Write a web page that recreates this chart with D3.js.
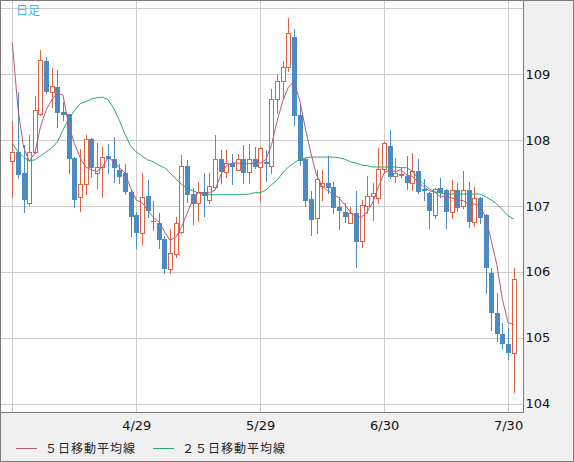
<!DOCTYPE html>
<html>
<head>
<meta charset="utf-8">
<script src="https://cdn.jsdelivr.net/npm/d3@7"></script>
<style>
  body { margin: 0; background: #f0f0f0; }
</style>
</head>
<body>
<script>
// daily candles
var dates = ["3/30","3/31",
  "4/1","4/2","4/3","4/6","4/7","4/8","4/9","4/10","4/13","4/14","4/15","4/16","4/17","4/20","4/21","4/22","4/23","4/24","4/27","4/28","4/29","4/30",
  "5/1","5/4","5/5","5/6","5/7","5/8","5/11","5/12","5/13","5/14","5/15","5/18","5/19","5/20","5/21","5/22","5/25","5/26","5/27","5/28","5/29",
  "6/1","6/2","6/3","6/4","6/5","6/8","6/9","6/10","6/11","6/12","6/15","6/16","6/17","6/18","6/19","6/22","6/23","6/24","6/25","6/26","6/29","6/30",
  "7/1","7/2","7/3","7/6","7/7","7/8","7/9","7/10","7/13","7/14","7/15","7/16","7/17","7/20","7/21","7/22","7/23","7/24","7/27","7/28","7/29","7/30","7/31"];

var open = [107.68,107.82,107.50,107.05,107.82,108.39,109.20,108.73,108.80,108.42,
  108.39,107.73,107.14,107.33,108.02,107.50,107.59,107.76,107.71,107.55,
  107.50,107.21,106.86,106.59,107.15,106.77,106.74,106.50,106.05,106.27,
  106.61,107.61,107.18,107.05,107.21,107.09,107.29,107.71,107.52,107.65,
  107.55,107.71,107.52,107.71,107.59,107.67,107.61,108.62,108.89,109.11,
  109.56,108.38,107.71,107.11,106.82,107.30,107.35,107.29,106.98,106.91,
  106.74,106.89,106.47,107.00,107.15,107.12,107.56,107.91,107.45,107.47,
  107.45,107.35,107.53,107.26,107.20,106.86,107.27,107.24,106.91,107.24,
  107.00,107.24,106.76,107.12,106.86,105.98,105.38,105.06,104.91,104.77];

var high = [108.29,108.73,107.92,108.08,108.67,109.36,109.26,109.09,109.06,108.58,
  108.40,107.74,107.86,108.08,108.03,107.95,107.89,107.94,108.05,107.64,
  107.64,107.24,106.91,107.50,107.39,107.08,106.89,106.55,106.65,106.83,
  107.77,107.70,107.27,107.36,107.50,107.50,108.08,107.85,107.85,107.79,
  107.79,107.92,107.94,107.89,107.89,107.85,108.77,108.98,109.20,109.85,
  109.68,108.55,107.72,107.23,107.55,107.55,107.76,107.36,107.14,107.05,
  106.98,107.23,107.09,107.45,107.35,107.88,107.97,108.15,107.73,107.58,
  107.76,107.80,107.71,107.41,107.21,107.27,107.42,107.25,107.39,107.35,
  107.53,107.36,107.29,107.13,106.87,106.06,105.68,105.23,105.15,106.06];

var low = [107.14,107.42,106.91,107.02,107.80,108.38,108.71,108.50,108.20,108.30,
  107.50,106.98,106.92,107.18,107.44,107.27,107.14,107.50,107.36,107.35,
  107.18,106.55,106.36,106.42,106.83,106.64,106.36,105.98,105.98,106.23,
  106.59,107.06,106.73,106.77,106.85,107.05,107.27,107.35,107.44,107.33,
  107.54,107.35,107.35,107.58,107.08,107.38,107.50,108.41,108.62,109.05,
  108.23,107.62,107.00,106.56,106.59,107.09,107.20,106.89,106.65,106.76,
  106.74,106.08,106.38,106.89,106.79,107.05,107.50,107.42,107.36,107.44,
  107.26,107.24,107.20,107.09,106.67,106.82,107.14,106.67,106.82,106.92,
  106.97,106.68,106.70,106.74,105.68,105.12,104.95,104.85,104.68,104.18];

var close = [107.82,107.47,107.09,107.82,108.45,109.21,108.73,108.82,108.41,108.38,
  107.71,107.09,107.33,108.02,107.58,107.59,107.74,107.71,107.58,107.44,
  107.21,106.83,106.59,107.14,106.92,106.76,106.48,106.05,106.29,106.74,
  107.61,107.17,107.03,107.21,107.15,107.30,107.71,107.52,107.65,107.59,
  107.71,107.50,107.71,107.59,107.88,107.64,108.62,108.89,109.11,109.62,
  108.36,107.68,107.08,106.79,107.41,107.35,107.27,106.97,106.92,106.83,
  106.89,106.45,107.02,107.15,107.20,107.56,107.95,107.44,107.50,107.48,
  107.35,107.53,107.21,107.23,106.92,107.26,107.20,106.91,107.24,106.97,
  107.24,106.76,107.12,106.82,106.06,105.38,105.05,104.91,104.77,105.89];

// moving averages as drawn
var ma5 = [109.48,108.48,107.89,107.68,107.80,108.20,108.45,108.61,108.71,108.68,
  108.23,107.95,107.74,107.59,107.55,107.52,107.59,107.73,107.68,107.58,
  107.50,107.27,107.09,107.05,106.94,106.83,106.76,106.61,106.48,106.52,
  106.67,106.88,107.09,107.20,107.20,107.20,107.24,107.47,107.61,107.65,
  107.65,107.64,107.64,107.65,107.65,107.70,107.92,108.29,108.59,108.80,
  108.89,108.61,108.18,107.80,107.47,107.30,107.23,107.18,107.12,107.02,
  106.91,106.83,106.83,106.91,107.06,107.29,107.50,107.55,107.52,107.55,
  107.47,107.45,107.36,107.29,107.23,107.21,107.14,107.14,107.12,107.09,
  107.08,107.03,107.03,107.00,106.83,106.48,106.11,105.58,105.23,105.20];

var ma25 = [107.95,107.82,107.74,107.68,107.70,107.76,107.82,107.88,107.97,108.15,
  108.32,108.44,108.55,108.58,108.62,108.64,108.65,108.61,108.48,108.30,
  108.09,107.91,107.82,107.76,107.70,107.67,107.62,107.58,107.50,107.41,
  107.33,107.27,107.23,107.20,107.18,107.17,107.17,107.17,107.17,107.17,
  107.17,107.17,107.18,107.20,107.20,107.24,107.32,107.39,107.50,107.59,
  107.65,107.71,107.73,107.74,107.74,107.74,107.74,107.74,107.73,107.71,
  107.67,107.65,107.62,107.61,107.59,107.59,107.59,107.59,107.59,107.58,
  107.58,107.53,107.42,107.33,107.26,107.21,107.20,107.18,107.18,107.18,
  107.18,107.18,107.18,107.18,107.14,107.09,107.03,106.94,106.85,106.80];

var gridDates = ["3/30","4/29","5/29","6/30","7/30"];
var labelDates = ["4/29","5/29","6/30","7/30"];
var yGrid = [104,105,106,107,108,109,110];
var yLabels = [104,105,106,107,108,109];
var legendNames = ["５日移動平均線", "２５日移動平均線"];

var upColor = "#dc6243";
var downColor = "#4b8bc3";
var ma5Color = "#b4587f";
var ma25Color = "#2aa775";

//set up svg
var width = 574;
var height = 462;
var plotW = 523;
var plotH = 412;

var svg = d3.select("body").append("svg")
  .attr("width", width)
  .attr("height", height)
  .style("display", "block");

svg.append("rect")
  .attr("x", 0.5).attr("y", 0.5)
  .attr("width", width - 1).attr("height", height - 1)
  .attr("fill", "#f0f0f0")
  .attr("stroke", "#7a7a7a");

svg.append("rect")
  .attr("x", 0.5).attr("y", 0.5)
  .attr("width", plotW).attr("height", plotH)
  .attr("fill", "#ffffff");

//scales
var xChart = d3.scalePoint()
  .domain(dates)
  .range([12.3, 513.7]);

var yChart = d3.scaleLinear()
  .domain([104, 110])
  .range([403.6, 8.2]);

function px(d) { return Math.round(xChart(d)); }
function py(v) { return Math.round(yChart(v)); }

//grid lines
svg.append("g").selectAll("line")
  .data(gridDates)
  .enter().append("line")
  .attr("x1", function(d) { return px(d) + 0.5; })
  .attr("x2", function(d) { return px(d) + 0.5; })
  .attr("y1", 1).attr("y2", plotH)
  .attr("stroke", "#cccccc");

svg.append("g").selectAll("line")
  .data(yGrid)
  .enter().append("line")
  .attr("x1", 1).attr("x2", plotW)
  .attr("y1", function(d) { return py(d) + 0.5; })
  .attr("y2", function(d) { return py(d) + 0.5; })
  .attr("stroke", "#cccccc");

//candles
var candles = svg.append("g").selectAll("g")
  .data(dates)
  .enter().append("g");

candles.append("line")
  .attr("x1", function(d) { return px(d) + 0.5; })
  .attr("x2", function(d) { return px(d) + 0.5; })
  .attr("y1", function(d, i) { return py(high[i]); })
  .attr("y2", function(d, i) { return py(low[i]) + 1; })
  .attr("stroke", function(d, i) { return close[i] >= open[i] ? upColor : downColor; });

candles.append("rect")
  .attr("x", function(d, i) { return close[i] >= open[i] ? px(d) - 1.5 : px(d) - 2; })
  .attr("y", function(d, i) {
    var t = py(Math.max(open[i], close[i]));
    return close[i] >= open[i] ? t + 0.5 : t;
  })
  .attr("width", function(d, i) { return close[i] >= open[i] ? 4 : 5; })
  .attr("height", function(d, i) {
    var h = py(Math.min(open[i], close[i])) - py(Math.max(open[i], close[i]));
    return close[i] >= open[i] ? Math.max(h, 1) : Math.max(h, 1);
  })
  .attr("fill", function(d, i) { return close[i] >= open[i] ? "#ffffff" : downColor; })
  .attr("stroke", function(d, i) { return close[i] >= open[i] ? upColor : "none"; });

//moving averages
var maLine = function(arr) {
  return d3.line()
    .x(function(d, i) { return xChart(dates[i]); })
    .y(function(d) { return yChart(d); })(arr);
};

svg.append("path")
  .attr("d", maLine(ma25))
  .attr("fill", "none")
  .attr("stroke", ma25Color)
  .attr("stroke-width", 1);

svg.append("path")
  .attr("d", maLine(ma5))
  .attr("fill", "none")
  .attr("stroke", ma5Color)
  .attr("stroke-width", 1);

//plot frame
svg.append("rect")
  .attr("x", 0.5).attr("y", 0.5)
  .attr("width", plotW).attr("height", plotH)
  .attr("fill", "none")
  .attr("stroke", "#7a7a7a");

//axes
var yAxis = d3.axisRight(yChart)
  .tickValues(yLabels)
  .tickSize(0)
  .tickPadding(2)
  .tickFormat(d3.format("d"));

var gy = svg.append("g")
  .attr("transform", "translate(" + (plotW + 0.5) + ",0)")
  .call(yAxis);
gy.select(".domain").remove();
gy.selectAll("text")
  .attr("font-family", "'DejaVu Sans', sans-serif")
  .attr("font-size", 13)
  .attr("fill", "#111");

var xAxis = d3.axisBottom(xChart)
  .tickValues(labelDates)
  .tickSize(0)
  .tickPadding(9);

var gx = svg.append("g")
  .attr("transform", "translate(0," + plotH + ")")
  .call(xAxis);
gx.select(".domain").remove();
gx.selectAll("text")
  .attr("font-family", "'DejaVu Sans', sans-serif")
  .attr("font-size", 13)
  .attr("fill", "#111");

//chart label
svg.append("text")
  .attr("x", 16)
  .attr("y", 14.5)
  .attr("font-family", "'Noto Sans CJK JP', sans-serif")
  .attr("font-size", 12)
  .attr("fill", "#3db6ea")
  .text("日足");

//legend
var legendX = [16, 153];
var legendColors = [ma5Color, ma25Color];

var legend = svg.append("g").selectAll("g")
  .data(legendNames)
  .enter().append("g")
  .attr("transform", function(d, i) { return "translate(" + legendX[i] + ",448)"; });

legend.append("line")
  .attr("x1", 0).attr("x2", 21)
  .attr("y1", 0.5).attr("y2", 0.5)
  .attr("stroke", function(d, i) { return legendColors[i]; });

legend.append("text")
  .attr("x", 29)
  .attr("y", 4.5)
  .attr("font-family", "'Noto Sans CJK JP', sans-serif")
  .attr("font-size", 12)
  .attr("letter-spacing", 1)
  .attr("fill", "#222")
  .text(function(d) { return d; });
</script>
</body>
</html>
